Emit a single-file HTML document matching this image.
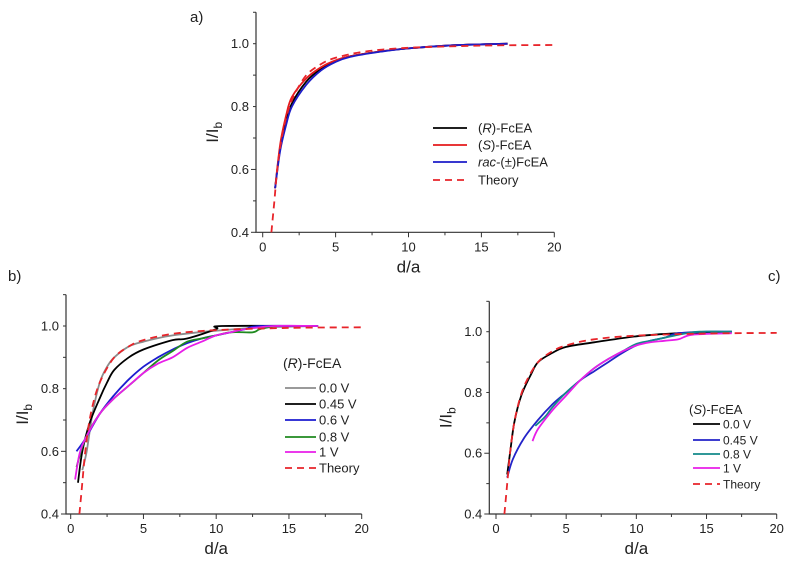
<!DOCTYPE html>
<html><head><meta charset="utf-8">
<style>
html,body{margin:0;padding:0;background:#fff;}
svg{display:block;font-family:"Liberation Sans",sans-serif;}
</style></head>
<body>
<svg id="fig" width="788" height="565" viewBox="0 0 788 565" xmlns="http://www.w3.org/2000/svg"></svg>
<script>
// ---- data ----
const xTicks = [0,5,10,15,20];
const yTicks = [0.4,0.6,0.8,1.0];
const yTickLabels = ["0.4","0.6","0.8","1.0"];

const theoryX = [0.6,0.8,1.0,1.3,1.7,2.2,3,4,5,7,10,15,20];
const theoryY = [0.4,0.5,0.6,0.7,0.78,0.84,0.9,0.935,0.955,0.975,0.987,0.994,0.996];

const aRX = [0.85,1.2,1.6,2,3,4,5,6,8,10,13,16.8];
const aRY = [0.54,0.67,0.75,0.81,0.88,0.92,0.945,0.96,0.975,0.985,0.995,1.0];
const aSX = [0.85,1.2,1.6,2,3,4,5,6,8,10,13,16.8];
const aSY = [0.54,0.68,0.77,0.83,0.89,0.925,0.947,0.96,0.975,0.985,0.995,1.0];
const aRacX = [0.85,1.2,1.6,2,3,4,5,6,8,10,13,16.8];
const aRacY = [0.54,0.66,0.74,0.8,0.87,0.915,0.942,0.958,0.974,0.985,0.995,1.0];

const b00X = [0.8,1.1,1.5,2,2.5,3,4,5,7,10,13,17];
const b00Y = [0.54,0.6,0.72,0.82,0.87,0.9,0.935,0.95,0.97,0.985,0.995,1.0];
const b045X = [0.5,0.8,1.3,2,2.5,3,4,5,7,8,10,10.4,17];
const b045Y = [0.5,0.6,0.69,0.77,0.82,0.86,0.9,0.925,0.955,0.96,0.99,1.0,1.0];
const b06X = [0.4,1,2,3,4,5,6,7,8,9,10,11,12,13,17];
const b06Y = [0.6,0.64,0.72,0.78,0.83,0.87,0.9,0.925,0.945,0.96,0.97,0.98,0.99,1.0,1.0];
const b08X = [0.4,1,2,3,4,5,6,7,8,9,10,11,12.5,13,14];
const b08Y = [0.55,0.64,0.72,0.77,0.81,0.85,0.89,0.92,0.95,0.96,0.97,0.98,0.98,0.99,1.0];
const b1X = [0.3,0.6,1,2,3,4,5,6,7,8,9,10,11,12,14,17];
const b1Y = [0.51,0.59,0.64,0.72,0.77,0.81,0.85,0.88,0.9,0.93,0.95,0.97,0.98,0.99,1.0,1.0];

const c00X = [0.8,1,1.3,1.8,2.5,3,4,5,7,10,13,16.8];
const c00Y = [0.53,0.6,0.7,0.79,0.86,0.9,0.93,0.95,0.965,0.985,0.995,1.0];
const c045X = [0.8,1.2,2,3,4,5,6,7,8,9,10,11,12,13,15,16.8];
const c045Y = [0.52,0.58,0.65,0.71,0.76,0.8,0.84,0.87,0.9,0.93,0.955,0.97,0.98,0.995,1.0,1.0];
const c08X = [2.8,3.5,4,5,6,7,8,9,10,11,12,13,14.5,16.8];
const c08Y = [0.69,0.72,0.75,0.8,0.84,0.88,0.91,0.935,0.96,0.97,0.98,0.99,1.0,1.0];
const c1X = [2.6,3,4,5,6,7,8,9,10,11,12,13,14,16.8];
const c1Y = [0.64,0.68,0.74,0.79,0.84,0.88,0.91,0.935,0.955,0.965,0.97,0.975,0.99,0.995];

// ---- drawing ----
const NS="http://www.w3.org/2000/svg";
const svg=document.getElementById('fig');
function mk(tag,attrs,parent){const e=document.createElementNS(NS,tag);for(const k in attrs)e.setAttribute(k,attrs[k]);(parent||svg).appendChild(e);return e;}

function smoothPath(pts){
  let d='M'+pts[0][0].toFixed(1)+' '+pts[0][1].toFixed(1);
  for(let i=0;i<pts.length-1;i++){
    const p0=pts[i-1]||pts[i],p1=pts[i],p2=pts[i+1],p3=pts[i+2]||p2;
    const c1=[p1[0]+(p2[0]-p0[0])/6,p1[1]+(p2[1]-p0[1])/6];
    const c2=[p2[0]-(p3[0]-p1[0])/6,p2[1]-(p3[1]-p1[1])/6];
    d+=` C${c1[0].toFixed(1)} ${c1[1].toFixed(1)} ${c2[0].toFixed(1)} ${c2[1].toFixed(1)} ${p2[0].toFixed(1)} ${p2[1].toFixed(1)}`;
  }
  return d;
}

function panel(id,P){
  const g=mk('g',{});
  
  
  const sx=v=>P.x0+(v-0)*(P.x20-P.x0)/20;
  const sy=v=>P.y04+(v-0.4)*(P.y10-P.y04)/0.6;
  const ytop=sy(1.1);
  const ax=mk('path',{d:`M${P.ax} ${ytop} V${P.y04} H${sx(20)}`,stroke:'#333',fill:'none','stroke-width':1.2},g);
  
  
  for(let v=0;v<=20;v+=2.5){
    const major=v%5===0;
    mk('line',{x1:sx(v),x2:sx(v),y1:P.y04,y2:P.y04+(major?5:3),stroke:'#333','stroke-width':1},g);
  }
  xTicks.forEach(v=>{
    const t=mk('text',{x:sx(v),y:P.y04+19,'text-anchor':'middle','font-size':13,fill:'#222'},g);
    t.textContent=v;
    
    
  });
  for(let v=0.4;v<=1.1001;v+=0.1){
    const major=Math.abs((v*10)%2)<0.01;
    mk('line',{x1:P.ax,x2:P.ax-(major?5:3),y1:sy(v),y2:sy(v),stroke:'#333','stroke-width':1},g);
  }
  yTicks.forEach((v,i)=>{
    const t=mk('text',{x:P.ax-7,y:sy(v)+4.5,'text-anchor':'end','font-size':13,fill:'#222'},g);
    t.textContent=yTickLabels[i];
    
    
  });
  const xt=mk('text',{x:(sx(0)+sx(20))/2,y:P.y04+40,'text-anchor':'middle','font-size':17,fill:'#222'},g);
  xt.textContent='d/a';
  
  
  const yt=mk('text',{transform:`translate(${P.ax-38},${(sy(0.4)+ytop)/2+10}) rotate(-90)`,'text-anchor':'middle','font-size':17,fill:'#222'},g);
  yt.innerHTML='I/I<tspan font-size="12" dy="4">b</tspan>';
  
  
  const lab=mk('text',{x:P.lx,y:P.ly,'font-size':15,fill:'#222'},g);
  lab.textContent=id.slice(-1)+')';
  
  
  P.series.forEach(s=>{
    const pts=s.x.map((v,i)=>[sx(v),sy(s.y[i])]);
    const p=mk('path',{d:smoothPath(pts),stroke:s.c,fill:'none','stroke-width':s.dash?1.8:1.8,'stroke-dasharray':s.dash?'7 5':'none','stroke-linejoin':'round'},g);
    
    
  });
  if(P.legTitle){
    const lt=mk('text',{x:P.legTitleX,y:P.legTitleY+5,'font-size':P.legFs+1,fill:'#222'},g);
    lt.innerHTML=P.legTitle;
    
    
  }
  P.series.forEach((s,i)=>{
    const y=P.legY[i];
    const lg=mk('g',{},g);
    
    
    mk('line',{x1:P.legL1,x2:P.legL2,y1:y,y2:y,stroke:s.c,'stroke-width':1.8,'stroke-dasharray':s.dash?'7 5':'none'},lg);
    const t=mk('text',{x:P.legT,y:y+4.5,'font-size':P.legFs,fill:'#222'},lg);
    t.innerHTML=s.label;
  });
}
const theory={key:'theory',x:theoryX,y:theoryY,c:'#e8242a',dash:true,label:'Theory'};

panel('panel-a',{ax:256,x0:262.7,x20:554.3,y04:232.3,y10:43.7,lx:190,ly:22,
  series:[
    {key:'r-fcea',x:aRX,y:aRY,c:'#000',label:'(<tspan font-style="italic">R</tspan>)-FcEA'},
    {key:'s-fcea',x:aSX,y:aSY,c:'#e41a1c',label:'(<tspan font-style="italic">S</tspan>)-FcEA'},
    {key:'rac-fcea',x:aRacX,y:aRacY,c:'#1c1cc8',label:'<tspan font-style="italic">rac</tspan>-(±)FcEA'},
    theory],
  legY:[128,145,162,180],legL1:433,legL2:467,legT:478,legFs:13});

panel('panel-b',{ax:66,x0:70.7,x20:361.7,y04:514,y10:326,lx:8,ly:281,
  legTitle:'(<tspan font-style="italic">R</tspan>)-FcEA',legTitleX:283,legTitleY:363,
  series:[
    {key:'0-0v',x:b00X,y:b00Y,c:'#8c8c8c',label:'0.0 V'},
    {key:'0-45v',x:b045X,y:b045Y,c:'#000',label:'0.45 V'},
    {key:'0-6v',x:b06X,y:b06Y,c:'#1c1cd0',label:'0.6 V'},
    {key:'0-8v',x:b08X,y:b08Y,c:'#1f8a1f',label:'0.8 V'},
    {key:'1v',x:b1X,y:b1Y,c:'#e81ee8',label:'1 V'},
    theory],
  legY:[388,404,420,437,452,468],legL1:285,legL2:316,legT:319,legFs:13});

panel('panel-c',{ax:489.3,x0:496,x20:776.7,y04:514,y10:331.7,lx:768,ly:281,
  legTitle:'(<tspan font-style="italic">S</tspan>)-FcEA',legTitleX:689,legTitleY:409,
  series:[
    {key:'0-0v',x:c00X,y:c00Y,c:'#000',label:'0.0 V'},
    {key:'0-45v',x:c045X,y:c045Y,c:'#2323c8',label:'0.45 V'},
    {key:'0-8v',x:c08X,y:c08Y,c:'#138a8a',label:'0.8 V'},
    {key:'1v',x:c1X,y:c1Y,c:'#e81ee8',label:'1 V'},
    theory],
  legY:[424,440,454,468,484],legL1:693,legL2:720,legT:723,legFs:12});
</script>
</body></html>
